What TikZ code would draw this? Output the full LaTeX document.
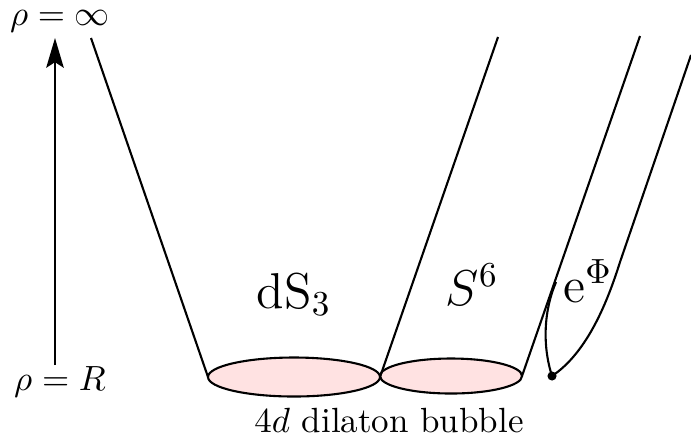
\documentclass[tikz,border=0pt]{standalone}
\usetikzlibrary{arrows.meta}
\definecolor{bubblepink}{RGB}{255,226,226}
\begin{document}
\begin{tikzpicture}[x=0.2857pt,y=-0.2857pt,
  wire/.style={line width=0.6pt,line join=round},
  bubble/.style={line width=0.6pt,fill=bubblepink},
  biglab/.style={font=\Large,anchor=base,inner sep=0pt},
  smalllab/.style={font=\normalsize,anchor=base,inner sep=0pt}]
\useasboundingbox (0,0) rectangle (691,444);
% ellipses
\draw[bubble] (294,377) ellipse [x radius=86, y radius=19.5];
\draw[bubble] (451,376) ellipse [x radius=71, y radius=17.5];
\coordinate (e1l) at (208,377);
\coordinate (e1r) at (380,377);
\coordinate (e2r) at (522,376);
\coordinate (t1) at (91,38);
\coordinate (t2) at (498,37);
\coordinate (t3) at (640,36);
\coordinate (t4) at (691,55);
\coordinate (dot) at (552,376);
\coordinate (merge) at (556,282);
% lines
\draw[wire] (e1l) -- (t1);
\draw[wire] (e1r) -- (t2);
\draw[wire] (e2r) -- (t3);
\draw[wire] (dot) .. controls (588,352) and (608,300) .. (620,262) -- (t4);
\draw[wire] (dot) .. controls (542,345) and (544,310) .. (merge);
\fill (dot) circle [radius=1.3pt];
% arrow
\coordinate (abot) at (55,365);
\coordinate (atop) at (55,38);
\draw[line width=0.6pt,-{Stealth[length=8.5pt,width=5pt,inset=1.6pt]}] (abot) -- (atop);
% labels
\node[smalllab] (rinf) at (60,25) {$\rho=\infty$};
\node[smalllab] (rR) at (60,390) {$\rho=R$};
\node[biglab] (ds) at (294,308) {$\mathrm{dS}_3$};
\node[biglab] (s6) at (472,305) {$S^6$};
\node[biglab] (ephi) at (588,302) {$\mathrm{e}^{\Phi}$};
\node[smalllab] (bub) at (389,432) {$4d$ dilaton bubble};
\end{tikzpicture}
\end{document}
